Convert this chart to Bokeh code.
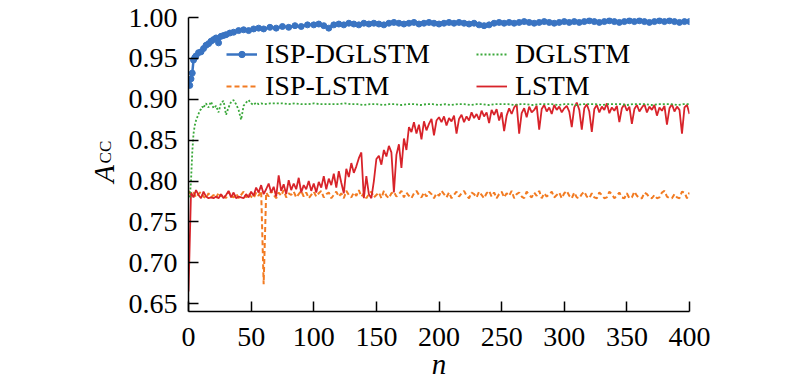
from bokeh.plotting import figure
from bokeh.models import (Range1d, FixedTicker, NumeralTickFormatter, Legend,
                          LegendItem, Label)
from bokeh.embed import file_html
from bokeh.resources import INLINE
import math

# ---------------- data ----------------
x_ticks = [0, 50, 100, 150, 200, 250, 300, 350, 400]
y_ticks = [0.65, 0.70, 0.75, 0.80, 0.85, 0.90, 0.95, 1.00]

# ISP-DGLSTM
n_isp_dglstm = ([1, 2, 3, 4, 5, 6, 8, 10, 12, 14, 16, 18, 20, 22, 24, 26, 28, 30,
                 33, 36, 40, 44, 48, 52, 56, 60, 65, 70, 75, 80, 85, 90, 95]
                + list(range(100, 401, 4)))
isp_dglstm = [0.917, 0.925, 0.932, 0.948, 0.951, 0.953, 0.957, 0.958, 0.962, 0.966,
              0.968, 0.971, 0.973, 0.975, 0.969, 0.977, 0.978, 0.979, 0.981, 0.982,
              0.984, 0.985, 0.984, 0.986, 0.987, 0.986, 0.988, 0.987, 0.989, 0.988,
              0.990, 0.989, 0.991,
              0.991, 0.992, 0.990, 0.987, 0.991, 0.992, 0.991, 0.993, 0.992, 0.991,
              0.993, 0.992, 0.993, 0.992, 0.991, 0.993, 0.994, 0.993, 0.992, 0.993,
              0.994, 0.992, 0.993, 0.994, 0.993, 0.992, 0.993, 0.994, 0.993, 0.994,
              0.993, 0.992, 0.993, 0.991, 0.990, 0.991, 0.993, 0.994, 0.993, 0.994,
              0.993, 0.994, 0.995, 0.994, 0.993, 0.994, 0.995, 0.994, 0.993, 0.994,
              0.995, 0.994, 0.995, 0.994, 0.995, 0.996, 0.995, 0.994, 0.995, 0.996,
              0.995, 0.994, 0.995, 0.996, 0.995, 0.996, 0.995, 0.994, 0.995, 0.996,
              0.995, 0.996, 0.995, 0.994, 0.995, 0.995]

# DGLSTM
n_dglstm = list(range(1, 21)) + list(range(22, 61, 2)) + list(range(65, 401, 5))
dglstm = [0.780, 0.800, 0.835, 0.858, 0.868, 0.874, 0.878, 0.882, 0.886, 0.888,
          0.891, 0.889, 0.893, 0.895, 0.892, 0.890, 0.894, 0.897, 0.893, 0.889,
          0.892, 0.884, 0.896, 0.898, 0.881, 0.890, 0.897, 0.899, 0.894, 0.887,
          0.875, 0.892, 0.896, 0.899, 0.895, 0.893, 0.896, 0.894, 0.895, 0.894,
          0.895, 0.895, 0.895, 0.894, 0.895, 0.894, 0.894, 0.895, 0.894, 0.894,
          0.894, 0.894, 0.895, 0.894, 0.894, 0.893, 0.894, 0.894, 0.893, 0.894,
          0.894, 0.893, 0.894, 0.894, 0.893, 0.894, 0.894, 0.893, 0.894, 0.893,
          0.894, 0.894, 0.893, 0.894, 0.894, 0.893, 0.894, 0.894, 0.894, 0.893,
          0.894, 0.894, 0.893, 0.894, 0.894, 0.894, 0.893, 0.894, 0.894, 0.893,
          0.894, 0.894, 0.894, 0.893, 0.894, 0.894, 0.894, 0.893, 0.894, 0.894,
          0.894, 0.893, 0.894, 0.894, 0.894, 0.893, 0.894, 0.894]

# ISP-LSTM
n_isp_lstm = list(range(0, 401, 2))
isp_lstm = [0.788, 0.783, 0.786, 0.780, 0.784, 0.787, 0.781, 0.779, 0.785, 0.780,
            0.783, 0.779, 0.786, 0.781, 0.784, 0.779, 0.787, 0.782, 0.780, 0.785,
            0.779, 0.783, 0.787, 0.780, 0.785, 0.781, 0.779, 0.786, 0.782, 0.788,
            0.674,
            0.786, 0.781, 0.788, 0.783, 0.779, 0.786, 0.782, 0.789, 0.780, 0.785,
            0.783, 0.787, 0.780, 0.784, 0.788, 0.781, 0.786, 0.779, 0.783,
            0.787, 0.781, 0.785, 0.788, 0.780, 0.784, 0.786, 0.779, 0.783, 0.787,
            0.781, 0.785, 0.779, 0.788, 0.783, 0.780, 0.786, 0.782, 0.789, 0.781,
            0.785, 0.779, 0.784, 0.787, 0.780, 0.783, 0.786, 0.779, 0.788, 0.782,
            0.779, 0.785, 0.787, 0.781, 0.784, 0.788, 0.780, 0.786, 0.782, 0.779,
            0.785, 0.788, 0.783, 0.780, 0.786, 0.781, 0.787, 0.784, 0.779, 0.785,
            0.782, 0.788, 0.784, 0.780, 0.786, 0.779, 0.783, 0.787, 0.781, 0.785,
            0.788, 0.782, 0.779, 0.786, 0.784, 0.780, 0.787, 0.783, 0.779, 0.785,
            0.788, 0.781, 0.786, 0.779, 0.784, 0.787, 0.780, 0.785, 0.782, 0.788,
            0.779, 0.784, 0.786, 0.781, 0.779, 0.787, 0.783, 0.780, 0.786, 0.782,
            0.788, 0.779, 0.785, 0.781, 0.784, 0.787, 0.780, 0.783, 0.786, 0.779,
            0.785, 0.788, 0.782, 0.779, 0.786, 0.780, 0.779, 0.784, 0.787, 0.781,
            0.779, 0.785, 0.780, 0.779, 0.786, 0.783, 0.779, 0.780, 0.787, 0.784,
            0.779, 0.782, 0.786, 0.780, 0.779, 0.785, 0.779, 0.780, 0.787, 0.782,
            0.779, 0.779, 0.786, 0.784, 0.780, 0.779, 0.783, 0.779, 0.780, 0.786,
            0.788, 0.781, 0.779, 0.779, 0.784, 0.780, 0.779, 0.787, 0.786, 0.779,
            0.786]

# LSTM
n_lstm = list(range(0, 401, 2))
lstm = [0.665,
        0.786, 0.780, 0.789, 0.783, 0.779, 0.787, 0.781, 0.779, 0.780, 0.779,
        0.781, 0.779, 0.784, 0.779, 0.783, 0.788, 0.780, 0.786, 0.779, 0.781,
        0.780, 0.779, 0.784, 0.780, 0.787, 0.782, 0.792, 0.786, 0.795,
        0.784, 0.790, 0.797, 0.786, 0.793, 0.781, 0.807, 0.788, 0.796, 0.784,
        0.801, 0.789, 0.797, 0.790, 0.804, 0.786, 0.795, 0.790, 0.800, 0.788,
        0.797, 0.786, 0.799, 0.792, 0.806, 0.790, 0.803, 0.795, 0.809, 0.792,
        0.812, 0.798, 0.785, 0.815, 0.805, 0.822, 0.810, 0.818, 0.828, 0.835,
        0.779, 0.806, 0.784, 0.779, 0.800, 0.827, 0.831, 0.820, 0.838, 0.830,
        0.843, 0.835, 0.786, 0.832, 0.845, 0.816, 0.852, 0.838, 0.866, 0.860,
        0.872, 0.858, 0.869, 0.851, 0.873, 0.862, 0.870, 0.876, 0.856, 0.874,
        0.878, 0.872, 0.879, 0.868, 0.877, 0.873, 0.880, 0.858, 0.876, 0.881,
        0.872, 0.879, 0.874, 0.884, 0.877, 0.882, 0.875, 0.886, 0.879, 0.884,
        0.871, 0.887, 0.881, 0.888, 0.874, 0.884, 0.861, 0.880, 0.889, 0.882,
        0.890, 0.894, 0.858, 0.883, 0.889, 0.878, 0.891, 0.884, 0.887, 0.892,
        0.863, 0.888, 0.893, 0.885, 0.890, 0.882, 0.893, 0.887, 0.891, 0.884,
        0.889, 0.892, 0.885, 0.866, 0.890, 0.896, 0.887, 0.863, 0.889, 0.894,
        0.885, 0.860, 0.888, 0.893, 0.884, 0.891, 0.887, 0.895, 0.883, 0.890,
        0.886, 0.892, 0.872, 0.889, 0.894, 0.886, 0.891, 0.870, 0.888, 0.893,
        0.885, 0.890, 0.894, 0.884, 0.891, 0.887, 0.893, 0.880, 0.890, 0.886,
        0.892, 0.869, 0.889, 0.894, 0.885, 0.891, 0.887, 0.858, 0.890, 0.893,
        0.882]

names = ["ISP-DGLSTM", "DGLSTM", "ISP-LSTM", "LSTM"]
x_title = "n"
y_title = "A"
y_title_sub = "CC"

BLUE = "#3a74c2"
GREEN = "#3aa83a"
ORANGE = "#f27b22"
RED = "#d8232a"
FONT = "Liberation Serif"

# ---------------- figure ----------------
p = figure(width=796, height=380, output_backend="svg", toolbar_location=None,
           x_range=Range1d(0, 400), y_range=Range1d(0.6405, 1.0),
           min_border_left=188, min_border_right=107, min_border_top=17,
           min_border_bottom=59)
p.outline_line_color = None
p.xgrid.visible = False
p.ygrid.visible = False
p.background_fill_color = "white"

r_orange = p.line(n_isp_lstm, isp_lstm, line_color=ORANGE, line_width=2,
                  line_dash="5 3")
r_red = p.line(n_lstm, lstm, line_color=RED, line_width=1.8)
r_green = p.line(n_dglstm, dglstm, line_color=GREEN, line_width=1.8,
                 line_dash="2 2")
r_blue = p.line(n_isp_dglstm, isp_dglstm, line_color=BLUE, line_width=2.5)
r_blue_m = p.scatter(n_isp_dglstm, isp_dglstm, marker="circle", size=6,
                     fill_color=BLUE, line_color=BLUE)

p.xaxis.ticker = FixedTicker(ticks=x_ticks)
p.yaxis.ticker = FixedTicker(ticks=y_ticks)
p.yaxis.formatter = NumeralTickFormatter(format="0.00")
for ax in (p.xaxis, p.yaxis):
    ax.major_tick_in = 10
    ax.major_tick_out = 0
    ax.minor_tick_in = 0
    ax.minor_tick_out = 0
    ax.axis_line_width = 1.5
    ax.axis_line_color = "black"
    ax.major_tick_line_width = 1.5
    ax.major_tick_line_color = "black"
    ax.major_label_text_font = FONT
    ax.major_label_text_font_size = "28px"
    ax.major_label_text_color = "black"
p.xaxis.major_label_standoff = 16
p.yaxis.major_label_standoff = 11

# legends (two columns)
leg_kw = dict(border_line_color=None, background_fill_alpha=0, padding=0, margin=0,
              spacing=0, glyph_width=31, glyph_height=16, label_height=30,
              label_standoff=8, label_text_font=FONT, label_text_font_size="28px",
              label_text_color="black", label_text_baseline="middle")
leg1 = Legend(items=[LegendItem(label=names[0], renderers=[r_blue, r_blue_m]),
                     LegendItem(label=names[2], renderers=[r_orange])],
              location=(38, 209), **leg_kw)
leg2 = Legend(items=[LegendItem(label=names[1], renderers=[r_green]),
                     LegendItem(label=names[3], renderers=[r_red])],
              location=(288, 209), **leg_kw)
p.add_layout(leg1, "center")
p.add_layout(leg2, "center")

# axis titles, placed in the side panels (so they are not clipped by the frame)
p.add_layout(Label(x=-67.1, y=0.7978, x_units="data", y_units="data",
                   text=y_title, angle=math.pi / 2, text_font=FONT,
                   text_font_style="italic", text_font_size="29px",
                   text_align="left", text_baseline="alphabetic",
                   text_color="black"), "left")
p.add_layout(Label(x=-66.0, y=0.8216, x_units="data", y_units="data",
                   text=y_title_sub, angle=math.pi / 2, text_font=FONT,
                   text_font_size="17px", text_align="left",
                   text_baseline="alphabetic", text_color="black"), "left")
p.add_layout(Label(x=200, y=0.5766, x_units="data", y_units="data",
                   text=x_title, text_font=FONT, text_font_style="italic",
                   text_font_size="29px", text_align="center",
                   text_baseline="alphabetic", text_color="black"), "below")

open("out.html", "w").write(file_html(p, INLINE))
